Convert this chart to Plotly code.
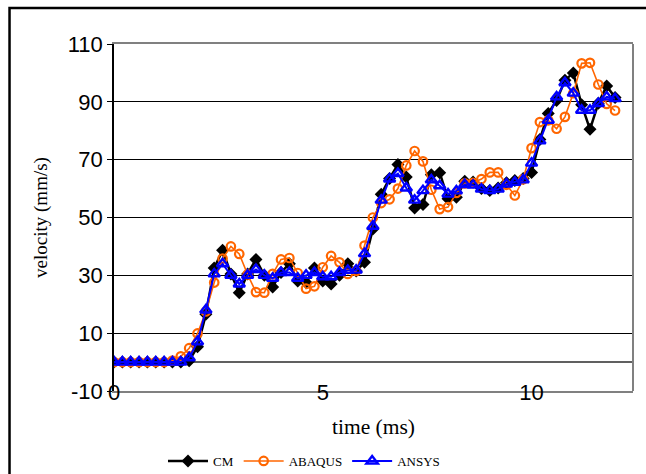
import plotly.graph_objects as go

time_ms = [round(0.2 * i, 1) for i in range(61)]

cm = [0, 0, 0, 0, 0, 0, 0, 0, 0, 0.5, 5.3, 16.5, 32.5, 38.7, 30.5, 24, 30.5, 35.5, 30, 26,
      31, 34, 28, 27.5, 32.5, 28, 27, 30, 34, 31.5, 34.5, 46, 58, 63.5, 68.3, 64, 53.3, 54.5, 64.8, 65.5,
      56.5, 57, 62.5, 62.3, 60, 59.3, 60.2, 62, 62.8, 63.5, 65.6, 77, 86, 90.5, 97.5, 100, 89, 80.5, 89.5, 95.5,
      91.5]

abaqus = [0, 0, 0, 0, 0, 0, 0, 0.5, 2, 4.8, 9.9, 17.5, 27.5, 35.8, 40, 37.4, 30.3, 24.2, 24, 30.5,
          35.5, 36, 30.8, 25.4, 26.2, 32.8, 36.7, 34.5, 30.5, 31.5, 40.3, 50, 55, 56.3, 60, 68, 73, 69.4, 59.6, 52.9,
          53.6, 58.5, 61.8, 62, 63.3, 65.6, 65.6, 61.3, 57.6, 63.2, 74, 83, 83.6, 80.7, 84.8, 93, 103.3, 103.5, 96, 89.3,
          87]

ansys = [0, 0, 0, 0, 0, 0, 0, 0, 0, 1.5, 7, 18, 30.5, 34, 30, 27, 30, 32, 30, 29,
         31, 31, 29, 30, 31, 29.5, 29.5, 31, 31.7, 31.8, 37.5, 47, 56, 63.3, 65.2, 60.2, 56, 59.3, 63, 61,
         58.1, 59.2, 61.4, 61.2, 59.8, 59.3, 59.8, 61.6, 62.2, 63, 68.8, 76.5, 83.6, 91.7, 96.6, 93, 87.1, 87.1, 89.4, 91.7,
         91.1]

y_tick_values = [-10, 10, 30, 50, 70, 90, 110]
y_tick_labels = ["-10", "10", "30", "50", "70", "90", "110"]
x_tick_values = [0, 5, 10]
x_tick_labels = ["0", "5", "10"]

fig = go.Figure()
fig.add_trace(go.Scatter(x=time_ms, y=cm, name="CM", mode="lines+markers",
                         line=dict(color="black", width=2.5),
                         marker=dict(symbol="diamond", size=10, color="black")))
fig.add_trace(go.Scatter(x=time_ms, y=abaqus, name="ABAQUS", mode="lines+markers",
                         line=dict(color="#FF6600", width=1.6),
                         marker=dict(symbol="circle-open", size=8.5, color="#FF6600", line=dict(width=2.2))))
fig.add_trace(go.Scatter(x=time_ms, y=ansys, name="ANSYS", mode="lines+markers",
                         line=dict(color="#0000FF", width=2),
                         marker=dict(symbol="triangle-up-open", size=10, color="#0000FF", line=dict(width=2.4))))

fig.update_layout(
    width=646, height=474,
    margin=dict(l=114, r=13, t=44, b=83, autoexpand=False),
    paper_bgcolor="white", plot_bgcolor="white",
    font=dict(family="Liberation Sans, Arial", color="black"),
    showlegend=True,
    legend=dict(orientation="h", x=0.0944, y=-0.2017, xanchor="left", yanchor="middle",
                font=dict(family="Liberation Serif, Times New Roman", size=13, color="black"),
                bgcolor="rgba(0,0,0,0)", itemwidth=40, tracegroupgap=0),
    xaxis=dict(range=[0, 12.43], tickvals=x_tick_values, ticktext=x_tick_labels,
               showgrid=False, zeroline=False, automargin=False,
               showline=True, linecolor="#808080", linewidth=2, mirror=True,
               ticks="", tickfont=dict(size=22), ticklabelstandoff=-19,
               title=dict(text="time (ms)", font=dict(family="Liberation Serif, Times New Roman", size=21.5))),
    yaxis=dict(range=[-10, 110], tickvals=y_tick_values, ticktext=y_tick_labels,
               showgrid=True, gridcolor="black", gridwidth=1, automargin=False,
               zeroline=True, zerolinecolor="#606060", zerolinewidth=2,
               showline=True, linecolor="black", linewidth=1.5,
               ticks="outside", ticklen=5, tickcolor="black", tickfont=dict(size=22),
               title=dict(text="velocity (mm/s)", font=dict(family="Liberation Serif, Times New Roman", size=19))),
    shapes=[
        dict(type="line", xref="paper", yref="paper", x0=1, x1=1, y0=0, y1=1,
             line=dict(color="#808080", width=2)),
        dict(type="rect", xref="paper", yref="paper", x0=-0.2013, y0=-0.3, x1=1.1, y1=1.1037,
             line=dict(color="black", width=2.5), fillcolor="rgba(0,0,0,0)", layer="above"),
    ],
)

fig.write_html("out.html")
